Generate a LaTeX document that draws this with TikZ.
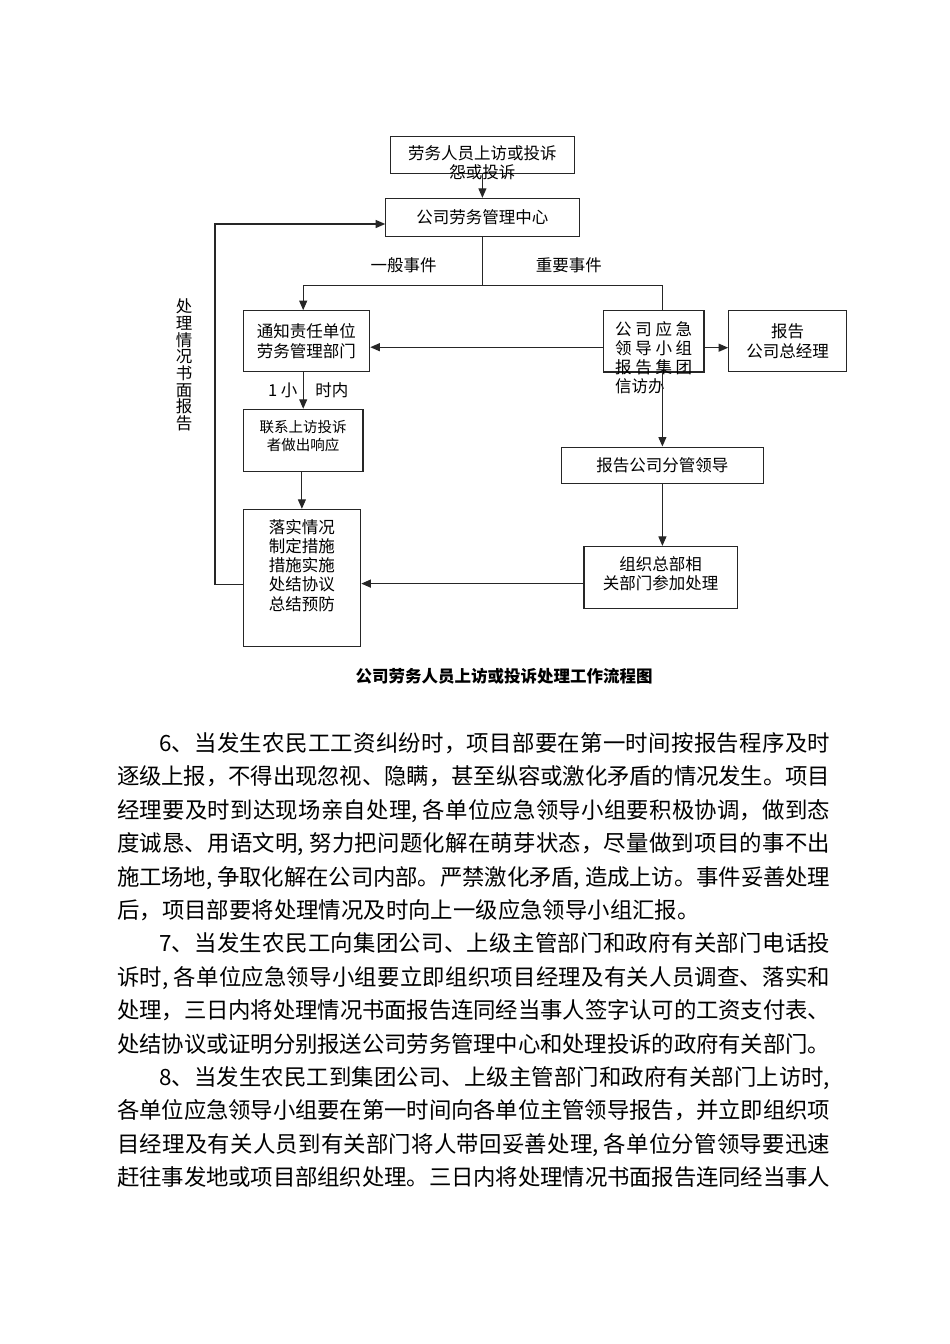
\documentclass[tikz,border=0pt]{standalone}
\usepackage{fontspec}
\setmainfont{Noto Sans CJK SC}
\usetikzlibrary{shapes,arrows,arrows.meta}
\XeTeXlinebreaklocale "zh"
\XeTeXlinebreakskip=0pt
\newcommand{\loosecjk}{\XeTeXlinebreakskip=0pt plus 4pt minus 1pt\relax}
\tikzstyle{block} = [rectangle, draw=black!85, line width=1.1pt, inner sep=0pt,
    align=center, font=\fontsize{16.5}{19.3}\selectfont]
\tikzstyle{tag} = [inner sep=0pt, font=\fontsize{16.5}{19.3}\selectfont]
\tikzstyle{line} = [draw=black!85, line width=1.1pt, -{Triangle[length=9.5pt,width=8pt]}]
\tikzstyle{link} = [draw=black!85, line width=1.1pt]
\tikzstyle{prose} = [inner sep=0pt, text width=713pt, align=justify,
    font=\fontsize{22.4}{33.4}\selectfont]

\begin{document}
\begin{tikzpicture}[x=1pt, y=-1pt, node distance=60pt]
        \useasboundingbox (0,0) rectangle (950,1344);
        % Place nodes
        \node [block, minimum width=183.3pt, text width=183.3pt, text height=22.5pt, text depth=14pt] (visit) at (482.4,154.8) {劳务人员上访或投诉\\怨或投诉};
        \node [block, below of=visit, node distance=62.4pt, minimum width=193.3pt, minimum height=37.7pt] (center) {公司劳务管理中心};
        \node [block, below of=center, node distance=124pt, xshift=-176pt, minimum width=126.7pt, minimum height=61pt] (notify) {通知责任单位\\劳务管理部门};
        \node [block, right of=notify, node distance=347.3pt, minimum width=100.6pt, text width=77pt, align=justify, text height=24.6pt, text depth=37pt] (lead) {\loosecjk 公司应急领导小组报告集团信访办};
        \node [block, right of=lead, node distance=134pt, minimum width=118pt, minimum height=61pt] (gm) {报告\\公司总经理};
        \node [block, below of=notify, node distance=99.3pt, xshift=-3.2pt, minimum width=119.6pt, text width=119.6pt, text height=23.2pt, text depth=39.2pt, font=\fontsize{14.5}{18.3}\selectfont] (contact) {联系上访投诉\\者做出响应};
        \node [block, below of=contact, node distance=137.2pt, xshift=-1.3pt, minimum width=117.7pt, text width=117.7pt, text height=23.7pt, text depth=113pt] (handle) {落实情况\\制定措施\\措施实施\\处结协议\\总结预防};
        \node [block, below of=lead, node distance=124.2pt, xshift=8.7pt, minimum width=201.3pt, minimum height=36.7pt] (deputy) {报告公司分管领导};
        \node [block, below of=deputy, node distance=112.2pt, xshift=-1.7pt, minimum width=153.4pt, text width=153.4pt, text height=23.9pt, text depth=38.4pt] (organize) {组织总部相\\关部门参加处理};
        \node [tag, left of=notify, node distance=122.2pt, yshift=-23.8pt, align=center, font=\fontsize{16.5}{16.7}\selectfont] (written) {处\\理\\情\\况\\书\\面\\报\\告};
        \node [tag, font=\bfseries\fontsize{16.5}{19.3}\selectfont] (title) at (504,676) {公司劳务人员上访或投诉处理工作流程图};
        \node [prose, anchor=base west] (rules) at (117,751.5) {\loosecjk\parindent=0pt\parfillskip=0pt
\hspace*{42pt}6、当发生农民工工资纠纷时，项目部要在第一时间按报告程序及时\par
逐级上报，不得出现忽视、隐瞒，甚至纵容或激化矛盾的情况发生。项目\par
经理要及时到达现场亲自处理, 各单位应急领导小组要积极协调，做到态\par
度诚恳、用语文明, 努力把问题化解在萌芽状态，尽量做到项目的事不出\par
施工场地, 争取化解在公司内部。严禁激化矛盾, 造成上访。事件妥善处理\par
{\parfillskip=0pt plus 1fil 后，项目部要将处理情况及时向上一级应急领导小组汇报。\par}
\hspace*{42pt}7、当发生农民工向集团公司、上级主管部门和政府有关部门电话投\par
诉时, 各单位应急领导小组要立即组织项目经理及有关人员调查、落实和\par
处理，三日内将处理情况书面报告连同经当事人签字认可的工资支付表、\par
处结协议或证明分别报送公司劳务管理中心和处理投诉的政府有关部门。\par
\hspace*{42pt}8、当发生农民工到集团公司、上级主管部门和政府有关部门上访时,\par
各单位应急领导小组要在第一时间向各单位主管领导报告，并立即组织项\par
目经理及有关人员到有关部门将人带回妥善处理, 各单位分管领导要迅速\par
赶往事发地或项目部组织处理。三日内将处理情况书面报告连同经当事人\par};
        % Draw edges
        \coordinate [below of=center, node distance=68pt] (split);
        \coordinate (bend) at (215,224);
        \path [line] (visit.south) -- (visit.south |- center.north);
        \path [link] (center) -- (split);
        \path [line] (split) -| node [tag, pos=0.22, yshift=20pt] {一般事件} (notify.north -| contact.north);
        \path [link] (split) -| node [tag, pos=0.24, yshift=20pt] {重要事件} (lead.north -| deputy.north);
        \path [line] ([yshift=-6pt]lead.west) -- ([yshift=-6pt]lead.west -| notify.east);
        \path [line] ([yshift=-6.5pt]lead.east) -- ([yshift=-6.5pt]lead.east -| gm.west);
        \path [line] (notify.south -| contact.north) -- node [tag, xshift=5pt] {1 小\hspace{18pt}时内} (contact.north);
        \path [line] (contact.south -| handle.north) -- (handle.north);
        \path [line] (lead.south -| deputy.north) -- (deputy.north);
        \path [line] (deputy.south) -- (deputy.south |- organize.north);
        \path [line] ([yshift=-6pt]organize.west) -- ([yshift=-6pt]organize.west -| handle.east);
        \path [line] ([yshift=-6.5pt]handle.west) -| (bend) -- (bend -| center.west);
\end{tikzpicture}
\end{document}
